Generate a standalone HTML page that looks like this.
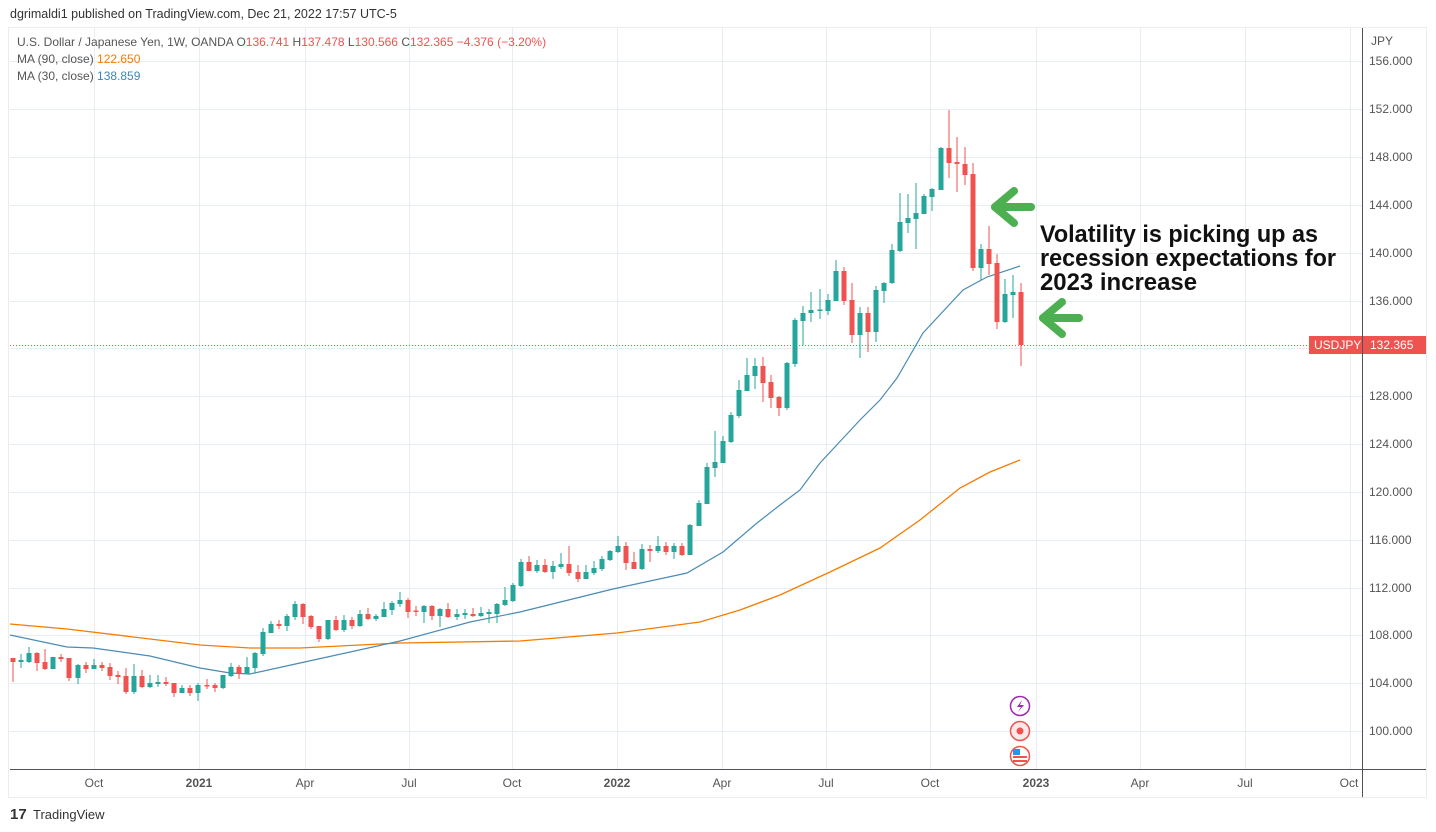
<!DOCTYPE html>
<html><head><meta charset="utf-8"><style>
html,body{margin:0;padding:0;background:#fff;width:1436px;height:832px;overflow:hidden}
svg{display:block;font-family:"Liberation Sans",sans-serif}
.g{fill:#26a69a}.r{fill:#ef5350}
</style></head><body>
<svg width="1436" height="832" viewBox="0 0 1436 832" xmlns="http://www.w3.org/2000/svg">
<text x="10" y="18" font-size="12.5" fill="#333">dgrimaldi1 published on TradingView.com, Dec 21, 2022 17:57 UTC-5</text>
<rect x="8.5" y="27.5" width="1418" height="770" fill="none" stroke="#ececec"/>
<g stroke="#e6edf3" stroke-width="1">
<line x1="10" x2="1362" y1="61.5" y2="61.5"/><line x1="10" x2="1362" y1="109.5" y2="109.5"/><line x1="10" x2="1362" y1="157.5" y2="157.5"/><line x1="10" x2="1362" y1="205.5" y2="205.5"/><line x1="10" x2="1362" y1="253.5" y2="253.5"/><line x1="10" x2="1362" y1="301.5" y2="301.5"/><line x1="10" x2="1362" y1="348.5" y2="348.5"/><line x1="10" x2="1362" y1="396.5" y2="396.5"/><line x1="10" x2="1362" y1="444.5" y2="444.5"/><line x1="10" x2="1362" y1="492.5" y2="492.5"/><line x1="10" x2="1362" y1="540.5" y2="540.5"/><line x1="10" x2="1362" y1="588.5" y2="588.5"/><line x1="10" x2="1362" y1="635.5" y2="635.5"/><line x1="10" x2="1362" y1="683.5" y2="683.5"/><line x1="10" x2="1362" y1="731.5" y2="731.5"/>
<line x1="94.5" x2="94.5" y1="28" y2="769"/><line x1="199.5" x2="199.5" y1="28" y2="769"/><line x1="305.5" x2="305.5" y1="28" y2="769"/><line x1="409.5" x2="409.5" y1="28" y2="769"/><line x1="512.5" x2="512.5" y1="28" y2="769"/><line x1="617.5" x2="617.5" y1="28" y2="769"/><line x1="722.5" x2="722.5" y1="28" y2="769"/><line x1="826.5" x2="826.5" y1="28" y2="769"/><line x1="930.5" x2="930.5" y1="28" y2="769"/><line x1="1036.5" x2="1036.5" y1="28" y2="769"/><line x1="1140.5" x2="1140.5" y1="28" y2="769"/><line x1="1245.5" x2="1245.5" y1="28" y2="769"/><line x1="1350.5" x2="1350.5" y1="28" y2="769"/>
</g>
<line x1="10" x2="1310" y1="345.5" y2="345.5" stroke="#ef5350" stroke-dasharray="1,2"/>
<polyline fill="none" stroke="#f57c00" stroke-width="1.3" points="10,624 67,629 200,645 250,648 300,648 400,643 520,641 617,633 700,622 740,610 780,595 830,572 880,548 920,520 960,488 990,472 1020,460"/>
<polyline fill="none" stroke="#4a8bb5" stroke-width="1.2" points="10,635 67,647 93,648 150,656 200,668 230,673 250,674 300,663 400,641 470,622 520,612 613,589 687,573 723,552 757,523 780,505 800,490 820,463 860,420 880,400 897,378 923,333 963,290 987,277 1020,266"/>
<g id="c">
<rect class="r" x="10.5" y="658" width="5" height="4"/><rect class="r" x="12.5" y="658" width="1" height="24"/>
<rect class="g" x="18.5" y="660" width="5" height="2"/><rect class="g" x="20.5" y="654" width="1" height="14"/>
<rect class="g" x="26.5" y="653" width="5" height="9"/><rect class="g" x="28.5" y="647" width="1" height="16"/>
<rect class="r" x="34.5" y="653" width="5" height="10"/><rect class="r" x="36.5" y="652" width="1" height="19"/>
<rect class="r" x="42.5" y="662" width="5" height="7"/><rect class="r" x="44.5" y="649" width="1" height="21"/>
<rect class="g" x="50.5" y="657" width="5" height="12"/>
<rect class="r" x="58.5" y="657" width="5" height="2"/><rect class="r" x="60.5" y="654" width="1" height="8"/>
<rect class="r" x="66.5" y="658" width="5" height="20"/><rect class="r" x="68.5" y="658" width="1" height="23"/>
<rect class="g" x="75.5" y="665" width="5" height="13"/><rect class="g" x="77.5" y="664" width="1" height="20"/>
<rect class="r" x="83.5" y="665" width="5" height="4"/><rect class="r" x="85.5" y="662" width="1" height="11"/>
<rect class="g" x="91.5" y="665" width="5" height="4"/><rect class="g" x="93.5" y="659" width="1" height="10"/>
<rect class="r" x="99.5" y="665" width="5" height="3"/><rect class="r" x="101.5" y="662" width="1" height="9"/>
<rect class="r" x="107.5" y="667" width="5" height="9"/><rect class="r" x="109.5" y="663" width="1" height="17"/>
<rect class="r" x="115.5" y="675" width="5" height="2"/><rect class="r" x="117.5" y="671" width="1" height="13"/>
<rect class="r" x="123.5" y="676" width="5" height="16"/><rect class="r" x="125.5" y="668" width="1" height="26"/>
<rect class="g" x="131.5" y="676" width="5" height="16"/><rect class="g" x="133.5" y="664" width="1" height="30"/>
<rect class="r" x="139.5" y="676" width="5" height="11"/><rect class="r" x="141.5" y="670" width="1" height="18"/>
<rect class="g" x="147.5" y="683" width="5" height="4"/><rect class="g" x="149.5" y="675" width="1" height="13"/>
<rect class="g" x="155.5" y="682" width="5" height="2"/><rect class="g" x="157.5" y="675" width="1" height="12"/>
<rect class="r" x="163.5" y="682" width="5" height="2"/><rect class="r" x="165.5" y="677" width="1" height="9"/>
<rect class="r" x="171.5" y="683" width="5" height="10"/><rect class="r" x="173.5" y="683" width="1" height="14"/>
<rect class="g" x="179.5" y="688" width="5" height="5"/><rect class="g" x="181.5" y="685" width="1" height="8"/>
<rect class="r" x="187.5" y="688" width="5" height="5"/><rect class="r" x="189.5" y="685" width="1" height="11"/>
<rect class="g" x="195.5" y="685" width="5" height="8"/><rect class="g" x="197.5" y="683" width="1" height="18"/>
<rect class="r" x="204.5" y="685" width="5" height="1.5"/><rect class="r" x="206.5" y="679" width="1" height="10"/>
<rect class="r" x="212.5" y="685" width="5" height="3"/><rect class="r" x="214.5" y="683" width="1" height="9"/>
<rect class="g" x="220.5" y="675" width="5" height="13"/><rect class="g" x="222.5" y="675" width="1" height="14"/>
<rect class="g" x="228.5" y="667" width="5" height="9"/><rect class="g" x="230.5" y="663" width="1" height="14"/>
<rect class="r" x="236.5" y="667" width="5" height="7"/><rect class="r" x="238.5" y="665" width="1" height="14"/>
<rect class="g" x="244.5" y="667" width="5" height="7"/><rect class="g" x="246.5" y="657" width="1" height="17"/>
<rect class="g" x="252.5" y="653" width="5" height="15"/><rect class="g" x="254.5" y="652" width="1" height="21"/>
<rect class="g" x="260.5" y="632" width="5" height="22"/><rect class="g" x="262.5" y="628" width="1" height="28"/>
<rect class="g" x="268.5" y="624" width="5" height="9"/><rect class="g" x="270.5" y="621" width="1" height="12"/>
<rect class="r" x="276.5" y="624" width="5" height="2"/><rect class="r" x="278.5" y="620" width="1" height="9"/>
<rect class="g" x="284.5" y="616" width="5" height="10"/><rect class="g" x="286.5" y="614" width="1" height="17"/>
<rect class="g" x="292.5" y="604" width="5" height="13"/><rect class="g" x="294.5" y="601" width="1" height="19"/>
<rect class="r" x="300.5" y="604" width="5" height="13"/><rect class="r" x="302.5" y="603" width="1" height="21"/>
<rect class="r" x="308.5" y="616" width="5" height="11"/><rect class="r" x="310.5" y="615" width="1" height="14"/>
<rect class="r" x="316.5" y="626" width="5" height="13"/><rect class="r" x="318.5" y="626" width="1" height="16"/>
<rect class="g" x="325.5" y="620" width="5" height="19"/><rect class="g" x="327.5" y="620" width="1" height="20"/>
<rect class="r" x="333.5" y="620" width="5" height="10"/><rect class="r" x="335.5" y="616" width="1" height="15"/>
<rect class="g" x="341.5" y="620" width="5" height="10"/><rect class="g" x="343.5" y="615" width="1" height="17"/>
<rect class="r" x="349.5" y="620" width="5" height="6"/><rect class="r" x="351.5" y="617" width="1" height="12"/>
<rect class="g" x="357.5" y="614" width="5" height="12"/><rect class="g" x="359.5" y="610" width="1" height="17"/>
<rect class="r" x="365.5" y="614" width="5" height="5"/><rect class="r" x="367.5" y="608" width="1" height="12"/>
<rect class="g" x="373.5" y="616" width="5" height="3"/><rect class="g" x="375.5" y="614" width="1" height="7"/>
<rect class="g" x="381.5" y="609" width="5" height="8"/><rect class="g" x="383.5" y="602" width="1" height="15"/>
<rect class="g" x="389.5" y="603" width="5" height="7"/><rect class="g" x="391.5" y="601" width="1" height="14"/>
<rect class="g" x="397.5" y="600" width="5" height="4"/><rect class="g" x="399.5" y="592" width="1" height="15"/>
<rect class="r" x="405.5" y="600" width="5" height="12"/><rect class="r" x="407.5" y="598" width="1" height="20"/>
<rect class="r" x="413.5" y="610.5" width="5" height="1.5"/><rect class="r" x="415.5" y="606" width="1" height="10"/>
<rect class="g" x="421.5" y="606" width="5" height="6"/><rect class="g" x="423.5" y="605" width="1" height="18"/>
<rect class="r" x="429.5" y="606" width="5" height="10"/><rect class="r" x="431.5" y="605" width="1" height="15"/>
<rect class="g" x="437.5" y="609" width="5" height="7"/><rect class="g" x="439.5" y="608" width="1" height="19"/>
<rect class="r" x="445.5" y="609" width="5" height="8"/><rect class="r" x="447.5" y="603" width="1" height="15"/>
<rect class="g" x="454.5" y="614" width="5" height="3"/><rect class="g" x="456.5" y="609" width="1" height="11"/>
<rect class="g" x="462.5" y="613" width="5" height="2"/><rect class="g" x="464.5" y="609" width="1" height="10"/>
<rect class="r" x="470.5" y="614" width="5" height="2"/><rect class="r" x="472.5" y="608" width="1" height="9"/>
<rect class="g" x="478.5" y="613" width="5" height="3"/><rect class="g" x="480.5" y="607" width="1" height="10"/>
<rect class="g" x="486.5" y="612" width="5" height="2"/><rect class="g" x="488.5" y="609" width="1" height="14"/>
<rect class="g" x="494.5" y="604" width="5" height="10"/><rect class="g" x="496.5" y="603" width="1" height="20"/>
<rect class="g" x="502.5" y="600" width="5" height="5"/><rect class="g" x="504.5" y="587" width="1" height="19"/>
<rect class="g" x="510.5" y="585" width="5" height="16"/><rect class="g" x="512.5" y="583" width="1" height="19"/>
<rect class="g" x="518.5" y="562" width="5" height="24"/><rect class="g" x="520.5" y="559" width="1" height="28"/>
<rect class="r" x="526.5" y="562" width="5" height="9"/><rect class="r" x="528.5" y="556" width="1" height="15"/>
<rect class="g" x="534.5" y="565" width="5" height="6"/><rect class="g" x="536.5" y="560" width="1" height="13"/>
<rect class="r" x="542.5" y="565" width="5" height="7"/><rect class="r" x="544.5" y="559" width="1" height="14"/>
<rect class="g" x="550.5" y="566" width="5" height="6"/><rect class="g" x="552.5" y="561" width="1" height="18"/>
<rect class="g" x="558.5" y="564" width="5" height="3"/><rect class="g" x="560.5" y="553" width="1" height="16"/>
<rect class="r" x="566.5" y="564" width="5" height="9"/><rect class="r" x="568.5" y="546" width="1" height="30"/>
<rect class="r" x="575.5" y="572" width="5" height="7"/><rect class="r" x="577.5" y="565" width="1" height="17"/>
<rect class="g" x="583.5" y="572" width="5" height="7"/><rect class="g" x="585.5" y="565" width="1" height="11"/>
<rect class="g" x="591.5" y="568" width="5" height="5"/><rect class="g" x="593.5" y="561" width="1" height="14"/>
<rect class="g" x="599.5" y="559" width="5" height="10"/><rect class="g" x="601.5" y="556" width="1" height="15"/>
<rect class="g" x="607.5" y="551" width="5" height="9"/><rect class="g" x="609.5" y="550" width="1" height="11"/>
<rect class="g" x="615.5" y="546" width="5" height="6"/><rect class="g" x="617.5" y="536" width="1" height="17"/>
<rect class="r" x="623.5" y="546" width="5" height="17"/><rect class="r" x="625.5" y="542" width="1" height="28"/>
<rect class="r" x="631.5" y="562" width="5" height="7"/><rect class="r" x="633.5" y="552" width="1" height="17"/>
<rect class="g" x="639.5" y="549" width="5" height="20"/><rect class="g" x="641.5" y="544" width="1" height="26"/>
<rect class="r" x="647.5" y="549" width="5" height="2"/><rect class="r" x="649.5" y="545" width="1" height="17"/>
<rect class="g" x="655.5" y="546" width="5" height="5"/><rect class="g" x="657.5" y="536" width="1" height="17"/>
<rect class="r" x="663.5" y="546" width="5" height="6"/><rect class="r" x="665.5" y="542" width="1" height="13"/>
<rect class="g" x="671.5" y="546" width="5" height="6"/><rect class="g" x="673.5" y="543" width="1" height="16"/>
<rect class="r" x="679.5" y="546" width="5" height="9"/><rect class="r" x="681.5" y="543" width="1" height="13"/>
<rect class="g" x="687.5" y="525" width="5" height="30"/><rect class="g" x="689.5" y="524" width="1" height="31"/>
<rect class="g" x="696.5" y="503" width="5" height="23"/><rect class="g" x="698.5" y="500" width="1" height="26"/>
<rect class="g" x="704.5" y="467" width="5" height="37"/><rect class="g" x="706.5" y="463" width="1" height="41"/>
<rect class="g" x="712.5" y="462" width="5" height="6"/><rect class="g" x="714.5" y="431" width="1" height="46"/>
<rect class="g" x="720.5" y="441" width="5" height="22"/><rect class="g" x="722.5" y="436" width="1" height="27"/>
<rect class="g" x="728.5" y="415" width="5" height="27"/><rect class="g" x="730.5" y="412" width="1" height="31"/>
<rect class="g" x="736.5" y="390" width="5" height="26"/><rect class="g" x="738.5" y="380" width="1" height="38"/>
<rect class="g" x="744.5" y="375" width="5" height="16"/><rect class="g" x="746.5" y="358" width="1" height="31"/>
<rect class="g" x="752.5" y="366" width="5" height="10"/><rect class="g" x="754.5" y="358" width="1" height="31"/>
<rect class="r" x="760.5" y="366" width="5" height="17"/><rect class="r" x="762.5" y="357" width="1" height="45"/>
<rect class="r" x="768.5" y="382" width="5" height="16"/><rect class="r" x="770.5" y="375" width="1" height="33"/>
<rect class="r" x="776.5" y="397" width="5" height="11"/><rect class="r" x="778.5" y="396" width="1" height="20"/>
<rect class="g" x="784.5" y="363" width="5" height="45"/><rect class="g" x="786.5" y="362" width="1" height="48"/>
<rect class="g" x="792.5" y="320" width="5" height="44"/><rect class="g" x="794.5" y="318" width="1" height="49"/>
<rect class="g" x="800.5" y="313" width="5" height="8"/><rect class="g" x="802.5" y="306" width="1" height="39"/>
<rect class="g" x="808.5" y="310" width="5" height="3"/><rect class="g" x="810.5" y="292" width="1" height="30"/>
<rect class="g" x="817.5" y="309.5" width="5" height="1.5"/><rect class="g" x="819.5" y="289" width="1" height="30"/>
<rect class="g" x="825.5" y="300" width="5" height="11"/><rect class="g" x="827.5" y="294" width="1" height="21"/>
<rect class="g" x="833.5" y="271" width="5" height="30"/><rect class="g" x="835.5" y="260" width="1" height="41"/>
<rect class="r" x="841.5" y="271" width="5" height="30"/><rect class="r" x="843.5" y="267" width="1" height="38"/>
<rect class="r" x="849.5" y="300" width="5" height="35"/><rect class="r" x="851.5" y="283" width="1" height="60"/>
<rect class="g" x="857.5" y="313" width="5" height="22"/><rect class="g" x="859.5" y="307" width="1" height="51"/>
<rect class="r" x="865.5" y="313" width="5" height="19"/><rect class="r" x="867.5" y="307" width="1" height="45"/>
<rect class="g" x="873.5" y="290" width="5" height="42"/><rect class="g" x="875.5" y="286" width="1" height="56"/>
<rect class="g" x="881.5" y="283" width="5" height="8"/><rect class="g" x="883.5" y="282" width="1" height="21"/>
<rect class="g" x="889.5" y="250" width="5" height="33"/><rect class="g" x="891.5" y="244" width="1" height="40"/>
<rect class="g" x="897.5" y="222" width="5" height="29"/><rect class="g" x="899.5" y="193" width="1" height="59"/>
<rect class="g" x="905.5" y="218" width="5" height="5"/><rect class="g" x="907.5" y="194" width="1" height="39"/>
<rect class="g" x="913.5" y="213" width="5" height="6"/><rect class="g" x="915.5" y="183" width="1" height="66"/>
<rect class="g" x="921.5" y="196" width="5" height="18"/><rect class="g" x="923.5" y="194" width="1" height="20"/>
<rect class="g" x="929.5" y="189" width="5" height="8"/><rect class="g" x="931.5" y="188" width="1" height="23"/>
<rect class="g" x="938.5" y="148" width="5" height="42"/><rect class="g" x="940.5" y="147" width="1" height="43"/>
<rect class="r" x="946.5" y="148" width="5" height="15"/><rect class="r" x="948.5" y="110" width="1" height="68"/>
<rect class="r" x="954.5" y="162" width="5" height="2"/><rect class="r" x="956.5" y="137" width="1" height="55"/>
<rect class="r" x="962.5" y="164" width="5" height="11"/><rect class="r" x="964.5" y="147" width="1" height="38"/>
<rect class="r" x="970.5" y="174" width="5" height="94"/><rect class="r" x="972.5" y="163" width="1" height="108"/>
<rect class="g" x="978.5" y="249" width="5" height="19"/><rect class="g" x="980.5" y="244" width="1" height="36"/>
<rect class="r" x="986.5" y="249" width="5" height="15"/><rect class="r" x="988.5" y="226" width="1" height="49"/>
<rect class="r" x="994.5" y="263" width="5" height="59"/><rect class="r" x="996.5" y="254" width="1" height="75"/>
<rect class="g" x="1002.5" y="294" width="5" height="28"/><rect class="g" x="1004.5" y="279" width="1" height="44"/>
<rect class="g" x="1010.5" y="292" width="5" height="3"/><rect class="g" x="1012.5" y="275" width="1" height="43"/>
<rect class="r" x="1018.5" y="292" width="5" height="53"/><rect class="r" x="1020.5" y="283" width="1" height="83"/>
</g>
<!-- arrows -->
<g stroke="#4caf50" stroke-width="8" stroke-linecap="round" stroke-linejoin="round" fill="none">
<polyline points="1014,191 995,207 1014,223"/><line x1="995" y1="207" x2="1031" y2="207"/>
<polyline points="1062,302 1043,318 1062,334"/><line x1="1043" y1="318" x2="1079" y2="318"/>
</g>
<g font-size="24" font-weight="bold" fill="#111">
<text x="1040" y="242" textLength="278" lengthAdjust="spacingAndGlyphs">Volatility is picking up as</text>
<text x="1040" y="266" textLength="296" lengthAdjust="spacingAndGlyphs">recession expectations for</text>
<text x="1040" y="290" textLength="157" lengthAdjust="spacingAndGlyphs">2023 increase</text>
</g>
<!-- event icons -->
<circle cx="1020" cy="706" r="9.5" fill="#fff" stroke="#9c27b0" stroke-width="1.5"/>
<path d="M1022 700 L1017 707 L1021 707 L1018 712 L1024 705 L1020 705 Z" fill="#9c27b0"/>
<circle cx="1020" cy="731" r="9.5" fill="#fce8e8" stroke="#ef5350" stroke-width="1.5"/>
<circle cx="1020" cy="731" r="3.5" fill="#ef5350"/>
<circle cx="1020" cy="756" r="9.5" fill="#fff" stroke="#ef5350" stroke-width="1.5"/>
<rect x="1013" y="749" width="7" height="6" fill="#2196f3"/>
<rect x="1013" y="756" width="14" height="2" fill="#ef5350"/><rect x="1013" y="760" width="14" height="2" fill="#ef5350"/>
<!-- axes -->
<line x1="1362.5" y1="28" x2="1362.5" y2="797" stroke="#50535e"/>
<line x1="10" y1="769.5" x2="1426" y2="769.5" stroke="#50535e"/>
<g font-size="12" fill="#555">
<text x="1371" y="45">JPY</text>
<text x="1369" y="65">156.000</text><text x="1369" y="113">152.000</text><text x="1369" y="161">148.000</text><text x="1369" y="209">144.000</text><text x="1369" y="257">140.000</text><text x="1369" y="305">136.000</text><text x="1369" y="400">128.000</text><text x="1369" y="448">124.000</text><text x="1369" y="496">120.000</text><text x="1369" y="544">116.000</text><text x="1369" y="592">112.000</text><text x="1369" y="639">108.000</text><text x="1369" y="687">104.000</text><text x="1369" y="735">100.000</text>
</g>
<rect x="1309" y="336" width="53" height="18" fill="#ef5350"/>
<text x="1314" y="349" font-size="12" fill="#fff">USDJPY</text>
<rect x="1363" y="336" width="63" height="18" fill="#ef5350"/>
<text x="1370" y="349" font-size="12" fill="#fff">132.365</text>
<g font-size="12" fill="#555" text-anchor="middle">
<text x="94" y="787">Oct</text><text x="199" y="787" font-weight="bold">2021</text><text x="305" y="787">Apr</text><text x="409" y="787">Jul</text><text x="512" y="787">Oct</text><text x="617" y="787" font-weight="bold">2022</text><text x="722" y="787">Apr</text><text x="826" y="787">Jul</text><text x="930" y="787">Oct</text><text x="1036" y="787" font-weight="bold">2023</text><text x="1140" y="787">Apr</text><text x="1245" y="787">Jul</text><text x="1349" y="787">Oct</text>
</g>
<!-- legend -->
<g font-size="12">
<text x="17" y="46" fill="#555">U.S. Dollar / Japanese Yen, 1W, OANDA  <tspan>O</tspan><tspan fill="#ef5350">136.741</tspan>  H<tspan fill="#ef5350">137.478</tspan>  L<tspan fill="#ef5350">130.566</tspan>  C<tspan fill="#ef5350">132.365  −4.376 (−3.20%)</tspan></text>
<text x="17" y="63" fill="#555">MA (90, close)  <tspan fill="#f57c00">122.650</tspan></text>
<text x="17" y="80" fill="#555">MA (30, close)  <tspan fill="#3d85b5">138.859</tspan></text>
</g>
<!-- logo -->
<text x="10" y="819" font-size="15" font-weight="bold" fill="#333">17</text>
<text x="33" y="819" font-size="13" fill="#333">TradingView</text>
</svg>
</body></html>
